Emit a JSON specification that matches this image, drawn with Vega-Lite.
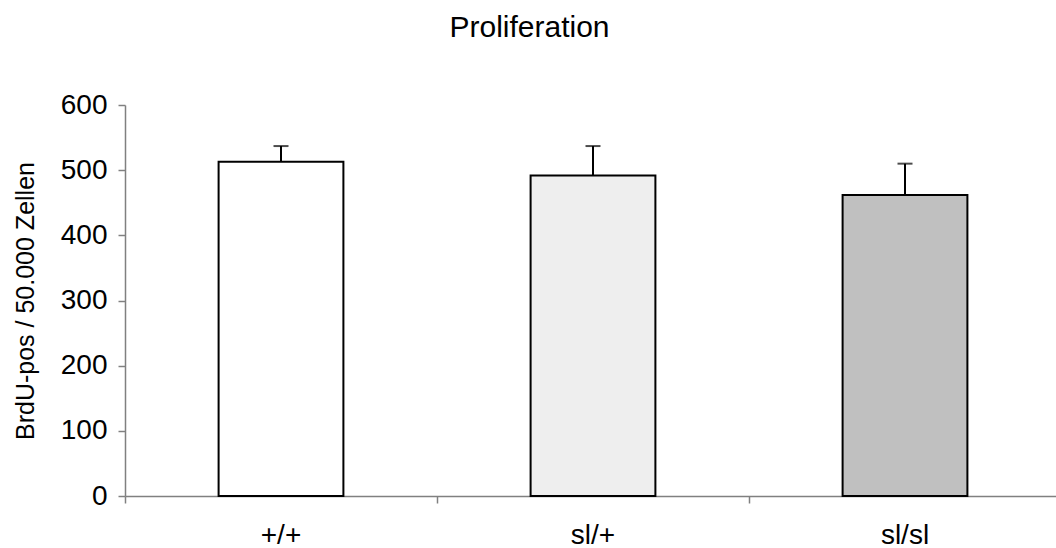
{
  "$schema": "https://vega.github.io/schema/vega-lite/v6.json",
  "autosize": {"type": "none"},
  "padding": {"left": 125, "top": 105, "right": 0, "bottom": 52},
  "width": 931,
  "height": 391,
  "background": "white",
  "config": {
    "view": {"stroke": null},
    "font": "Liberation Sans",
    "axis": {"grid": false}
  },
  "title": {
    "text": "Proliferation",
    "font": "Liberation Sans",
    "fontSize": 30,
    "fontWeight": "normal",
    "color": "black",
    "anchor": "middle",
    "frame": "group",
    "baseline": "alphabetic",
    "dx": -61,
    "offset": 24
  },
  "data": {
    "values": [
      {"genotype": "+/+", "mean": 513, "upper": 537, "fill": "white"},
      {"genotype": "sl/+", "mean": 492, "upper": 537, "fill": "dotted"},
      {"genotype": "sl/sl", "mean": 462, "upper": 510, "fill": "grey"}
    ]
  },
  "encoding": {
    "x": {
      "field": "genotype",
      "type": "nominal",
      "sort": ["+/+", "sl/+", "sl/sl"],
      "scale": {"range": [0, 936], "paddingInner": 0, "paddingOuter": 0},
      "axis": {
        "title": null,
        "labelAngle": 0,
        "labelFont": "Liberation Sans",
        "labelFontSize": 28,
        "labelColor": "black",
        "labelPadding": 18,
        "bandPosition": 0,
        "tickSize": 7,
        "tickColor": "#808080",
        "tickWidth": 1.5,
        "domainColor": "#808080",
        "domainWidth": 1.5
      }
    }
  },
  "layer": [
    {
      "mark": {"type": "bar", "width": {"band": 0.4}, "stroke": "black", "strokeWidth": 2},
      "encoding": {
        "y": {
          "field": "mean",
          "type": "quantitative",
          "scale": {"domain": [0, 600], "nice": false, "zero": true},
          "axis": {
            "title": "BrdU-pos / 50.000 Zellen",
            "titleFont": "Liberation Sans",
            "titleFontSize": 25,
            "titleFontWeight": "normal",
            "titleColor": "black",
            "titlePadding": 22,
            "values": [0, 100, 200, 300, 400, 500, 600],
            "labelFont": "Liberation Sans",
            "labelFontSize": 28,
            "labelColor": "black",
            "labelPadding": 11,
            "tickSize": 7,
            "tickColor": "#808080",
            "tickWidth": 1.5,
            "domainColor": "#808080",
            "domainWidth": 1.5
          }
        },
        "fill": {
          "field": "fill",
          "type": "nominal",
          "scale": {"domain": ["white", "dotted", "grey"], "range": ["#ffffff", "#eeeeee", "#c0c0c0"]},
          "legend": null
        }
      }
    },
    {
      "mark": {"type": "rule", "color": "black", "strokeWidth": 2},
      "encoding": {
        "y": {"field": "mean", "type": "quantitative"},
        "y2": {"field": "upper"}
      }
    },
    {
      "mark": {"type": "tick", "color": "black", "size": 15, "thickness": 2},
      "encoding": {
        "y": {"field": "upper", "type": "quantitative"}
      }
    }
  ]
}
